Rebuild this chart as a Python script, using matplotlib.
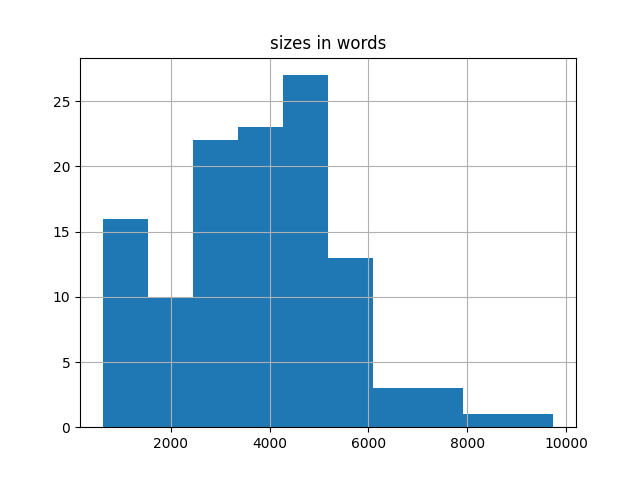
import numpy as np
import matplotlib
matplotlib.use("Agg")
import matplotlib.pyplot as plt

# histogram (10 equal bins)
size_min = 622
size_max = 9744
counts = [16, 10, 22, 23, 27, 13, 3, 3, 1, 1]

edges = np.linspace(size_min, size_max, len(counts) + 1)
centers = (edges[:-1] + edges[1:]) / 2

fig, ax = plt.subplots(figsize=(6.4, 4.8), dpi=100)
ax.hist(centers, bins=edges, weights=counts, color="#1f77b4")
ax.grid(True)
ax.set_title("sizes in words")

fig.savefig("out.png")
